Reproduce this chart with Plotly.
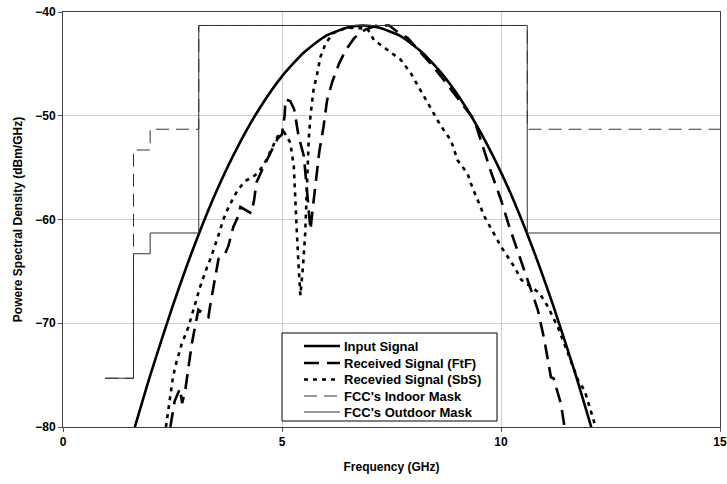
import plotly.graph_objects as go

# Frequency axis in GHz, PSD in dBm/GHz
input_f = [1.64, 2.0, 2.5, 3.0, 3.5, 4.0, 4.5, 5.0, 5.5, 6.0, 6.5, 6.85,
           7.2, 7.7, 8.2, 8.7, 9.2, 9.7, 10.2, 10.7, 11.2, 11.7, 12.06]
input_psd = [-80.0, -74.9, -68.4, -62.5, -57.3, -52.9, -49.2, -46.2, -43.9, -42.3, -41.5, -41.3,
             -41.5, -42.3, -43.9, -46.2, -49.2, -52.9, -57.3, -62.5, -68.4, -74.9, -80.0]

ftf_f = [2.45, 2.55, 2.67, 2.72, 2.79, 2.94, 3.09, 3.32, 3.36, 3.47, 3.55, 3.7, 3.78, 3.89,
         4.0, 4.05, 4.3, 4.36, 4.42, 4.58, 4.75, 4.9, 5.0, 5.06, 5.08, 5.19, 5.28, 5.38,
         5.5, 5.57, 5.65, 5.69, 5.76, 5.85, 5.95, 6.03, 6.15, 6.3, 6.45, 6.65, 6.9, 7.17,
         7.45, 7.63, 7.87, 8.4, 8.63, 9.0, 9.39, 9.77, 10.0, 10.19, 10.42, 10.61, 10.84,
         10.99, 11.14, 11.2, 11.37, 11.45]
ftf_psd = [-80.0, -77.5, -76.3, -77.7, -76.5, -72.0, -68.7, -69.4, -68.3, -65.5, -63.8, -63.3, -62.5, -60.7,
           -59.7, -58.8, -59.4, -58.2, -56.4, -54.9, -53.5, -52.2, -51.8, -50.0, -48.4, -48.6, -49.4, -52.0,
           -53.9, -57.5, -61.0, -59.4, -56.8, -53.5, -51.0, -48.5, -46.7, -45.0, -43.7, -42.5, -41.7, -41.3,
           -41.3, -41.9, -42.5, -45.0, -46.2, -48.3, -50.4, -55.4, -58.1, -60.7, -63.6, -65.8, -68.7,
           -71.6, -75.2, -75.3, -77.8, -80.0]

sbs_f = [2.35, 2.41, 2.5, 2.56, 2.71, 2.86, 2.98, 3.13, 3.28, 3.4, 3.55, 3.66, 3.78, 3.97,
         4.15, 4.3, 4.45, 4.6, 4.75, 4.9, 5.05, 5.19, 5.27, 5.3, 5.34, 5.38, 5.42, 5.48,
         5.53, 5.57, 5.61, 5.65, 5.72, 5.8, 5.88, 6.0, 6.18, 6.49, 6.95, 7.1, 7.48, 7.71,
         7.94, 8.24, 8.47, 8.63, 8.86, 9.01, 9.24, 9.31, 9.62, 10.0, 10.31, 10.46, 10.69,
         10.88, 11.07, 11.3, 11.53, 11.76, 11.91, 12.02, 12.14, 12.2]
sbs_psd = [-80.0, -78.1, -75.5, -74.2, -72.0, -70.4, -68.6, -66.5, -64.7, -63.4, -61.5, -60.0, -58.8, -57.3,
           -56.3, -56.0, -55.5, -54.6, -53.3, -52.0, -51.6, -52.6, -54.9, -58.1, -61.3, -64.6, -67.3, -64.5,
           -61.3, -56.8, -52.3, -50.0, -47.5, -46.0, -44.3, -43.0, -42.0, -41.5, -41.6, -42.7, -43.9, -44.6,
           -45.9, -48.1, -49.7, -51.0, -52.4, -54.3, -55.6, -56.5, -59.7, -62.6, -64.6, -65.8, -66.5,
           -67.1, -68.4, -70.4, -72.9, -75.5, -76.5, -78.1, -79.7, -80.0]

# FCC UWB emission masks (step edges)
mask_f = [0.96, 1.61, 1.99, 3.1, 10.6, 15.0]
indoor_mask = [-75.3, -53.3, -51.3, -41.3, -51.3, -51.3]
outdoor_mask = [-75.3, -63.3, -61.3, -41.3, -61.3, -61.3]

FONT = "Liberation Sans, Arial, sans-serif"
mask_color = "#333333"

W, H = 727, 484
M_L, M_R, M_T, M_B = 63, 7, 12, 57

series = [
    dict(x=input_f, y=input_psd, name="Input Signal",
         line=dict(color="black", width=2.6, shape="spline", smoothing=0.6)),
    dict(x=ftf_f, y=ftf_psd, name="Received Signal (FtF)",
         line=dict(color="black", width=2.6, dash="15px,8px")),
    dict(x=sbs_f, y=sbs_psd, name="Recevied Signal (SbS)",
         line=dict(color="black", width=2.6, dash="4px,5px")),
    dict(x=mask_f, y=indoor_mask, name="FCC's Indoor Mask",
         line=dict(color=mask_color, width=1, dash="13px,7px", shape="hv")),
    dict(x=mask_f, y=outdoor_mask, name="FCC's Outdoor Mask",
         line=dict(color=mask_color, width=1, shape="hv")),
]

fig = go.Figure()
for s in series:
    fig.add_trace(go.Scatter(x=s["x"], y=s["y"], mode="lines", name=s["name"], line=s["line"]))

axis_common = dict(
    showgrid=True, gridcolor="#cccccc", gridwidth=1,
    showline=True, linecolor="#404040", linewidth=1, mirror=True,
    ticks="outside", ticklen=4, tickcolor="#555555",
    zeroline=False, automargin=False,
    tickfont=dict(family=FONT, size=12, color="black", weight="bold"),
)

fig.update_xaxes(range=[0, 15], tickvals=[0, 5, 10, 15], **axis_common,
                 title=dict(text="Frequency (GHz)", standoff=14,
                            font=dict(family=FONT, size=12, color="black", weight="bold")))
fig.update_yaxes(range=[-80, -40], tickvals=[-80, -70, -60, -50, -40], **axis_common,
                 title=dict(text="Powere Spectral Density (dBm/GHz)", standoff=10,
                            font=dict(family=FONT, size=12, color="black", weight="bold")))

# Boxed legend built from shapes and annotations (pixel layout -> paper coords)
plot_w = W - M_L - M_R
plot_h = H - M_T - M_B


def paper_x(px):
    return (px - M_L) / plot_w


def paper_y(py):
    return (H - M_B - py) / plot_h


box = dict(x0=282, x1=497, y0=333, y1=421)
row_y = [346, 363, 379.5, 396, 412]
sample_x0, sample_x1, text_x = 304, 340, 342

shapes = [dict(type="rect", xref="paper", yref="paper",
               x0=paper_x(box["x0"]), x1=paper_x(box["x1"]),
               y0=paper_y(box["y1"]), y1=paper_y(box["y0"]),
               line=dict(color="black", width=1), fillcolor="white", layer="above")]
annotations = []
for s, ry in zip(series, row_y):
    ln = s["line"]
    shapes.append(dict(type="line", xref="paper", yref="paper",
                       x0=paper_x(sample_x0), x1=paper_x(sample_x1),
                       y0=paper_y(ry), y1=paper_y(ry), layer="above",
                       line=dict(color=ln["color"], width=ln["width"], dash=ln.get("dash", "solid"))))
    annotations.append(dict(xref="paper", yref="paper", x=paper_x(text_x), y=paper_y(ry),
                            xanchor="left", yanchor="middle", showarrow=False, text=s["name"],
                            font=dict(family=FONT, size=13, color="black", weight="bold")))

fig.update_layout(
    width=W, height=H,
    margin=dict(l=M_L, r=M_R, t=M_T, b=M_B),
    paper_bgcolor="white", plot_bgcolor="white",
    showlegend=False,
    shapes=shapes, annotations=annotations,
)

fig.write_html("out.html")
